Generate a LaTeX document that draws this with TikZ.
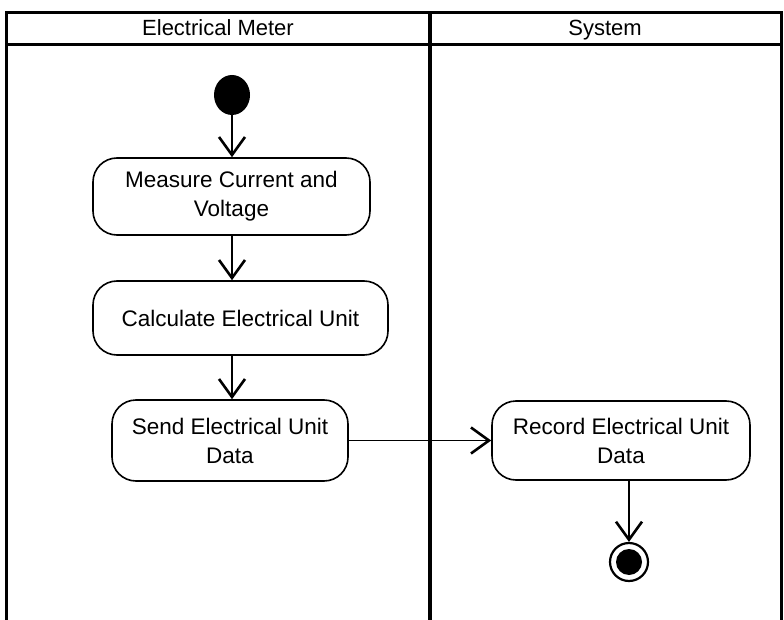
\documentclass[tikz,border=0pt]{standalone}
\usepackage{fontspec}
\setmainfont{Liberation Sans}
\usetikzlibrary{arrows.meta,shapes.geometric}
\begin{document}
\begin{tikzpicture}[x=1pt,y=-1pt,
  act/.style={draw, line width=1.6pt, rounded corners=24pt, align=center,
    font=\fontsize{22.5}{29}\selectfont, inner sep=0pt},
  flow/.style={line width=1.4pt, -{Straight Barb[length=18pt,width=26pt,line width=2.6pt]}},
  laneline/.style={line width=3pt},
  lanehead/.style={font=\fontsize{22}{24}\selectfont, inner sep=0pt, anchor=base, text height=16pt, text depth=5pt}]
\useasboundingbox (0,0) rectangle (784,620);
\fill[white] (0,0) rectangle (784,620);
% swimlane frame
\draw[laneline] (6,620) -- (6,13) -- (781,13) -- (781,620);
\draw[laneline] (6,45) -- (781,45);
\draw[line width=4pt] (430,13) -- (430,620);
\node[lanehead] (h1) at (218,36) {Electrical Meter};
\node[lanehead] (h2) at (605,36) {System};
% nodes
\node[ellipse, fill=black, minimum width=36pt, minimum height=40pt, inner sep=0pt] (start) at (232,95) {};
\node[act, minimum width=277pt, minimum height=77pt] (measure) at (231.5,196.5) {Measure Current and\\Voltage};
\node[act, minimum width=295pt, minimum height=74pt] (calc) at (240.5,318) {Calculate Electrical Unit};
\node[act, minimum width=236pt, minimum height=81pt] (send) at (230,440.5) {Send Electrical Unit\\Data};
\node[act, minimum width=258pt, minimum height=79pt] (record) at (621,440.5) {Record Electrical Unit\\Data};
\node[circle, draw, line width=2.2pt, minimum size=38pt, inner sep=0pt] (end) at (629,562) {};
\fill (end.center) circle (13pt);
% flows
\draw[flow] (start) -- (start |- measure.north);
\draw[flow] (measure.south -| start) -- (calc.north -| start);
\draw[flow] (calc.south -| start) -- (send.north -| start);
\draw[flow] (send.east) -- (record.west);
\draw[flow] (end |- record.south) -- (end.north);
\end{tikzpicture}
\end{document}
